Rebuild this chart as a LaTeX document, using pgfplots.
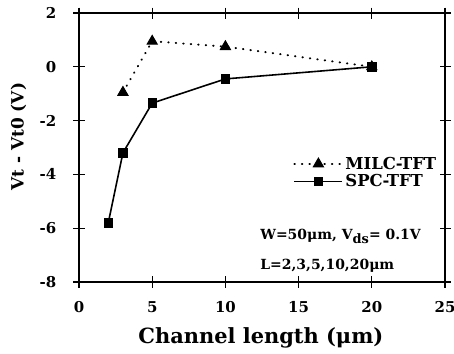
\documentclass[border=0pt]{standalone}
\usepackage{pgfplots}
\pgfplotsset{compat=1.18}
\usepackage{fontspec}
\setmainfont{DejaVu Serif}
\begin{document}
\begin{tikzpicture}[x=1bp,y=1bp]
\begin{axis}[
  name=ax,
  scale only axis,
  width=366bp, height=269bp,
  xmin=0, xmax=25, ymin=-8, ymax=2,
  xtick={0,5,10,15,20,25},
  ytick={-8,-6,-4,-2,0,2},
  xticklabel={\pgfmathprintnumber[assume math mode=true]{\tick}},
  yticklabel={\pgfmathprintnumber[assume math mode=true]{\tick}},
  tick align=center,
  major tick length=11bp,
  axis line style={line width=1.6pt},
  every tick/.style={line width=1.2pt, black},
  ticklabel style={font=\fontsize{15}{16}\selectfont\bfseries},
  xticklabel style={anchor=north, inner sep=0pt, yshift=-14bp},
  yticklabel style={anchor=east, inner sep=0pt, xshift=-17bp},
  every x tick label/.append style={at={(axis cs:\tick,-8)}},
  xlabel={Channel length (μm)},
  ylabel={Vt - Vt0 (V)},
  xlabel style={font=\fontsize{21}{22}\selectfont\bfseries, at={(axis description cs:0.497,-0.208)}, anchor=center},
  ylabel style={font=\fontsize{17}{18}\selectfont\bfseries, at={(axis description cs:-0.165,0.54)}, anchor=center},
  legend style={draw=none, fill=none, at={(0.99,0.48)}, anchor=north east,
    font=\fontsize{16.5}{17}\selectfont\bfseries, row sep=0bp,
    legend cell align=left},
  legend image code/.code={\draw[mark repeat=2,mark phase=2,#1] plot coordinates {(0bp,0bp) (24bp,0bp) (48bp,0bp)};},
]
\addplot[black, line width=2pt, line cap=round, dash pattern=on 0.5bp off 7bp, mark=triangle*, mark size=5.8bp,
  mark options={solid, line width=1pt}] coordinates {(3,-0.95) (5,0.95) (10,0.75) (20,0)};
\addlegendentry{MILC-TFT}
\addplot[black, line width=1.6pt, mark=square*, mark size=4.2bp, mark options={solid, line width=1pt}]
  coordinates {(2,-5.8) (3,-3.2) (5,-1.35) (10,-0.45) (20,0)};
\addlegendentry{SPC-TFT}
\node[anchor=west, font=\fontsize{14}{15}\selectfont\bfseries] at (axis cs:12.15,-6.3) {W=50μm, V\raisebox{-0.6ex}{\fontsize{13}{13}\selectfont ds}= 0.1V};
\node[anchor=west, font=\fontsize{14}{15}\selectfont\bfseries] at (axis cs:12.15,-7.4) {L=2,3,5,10,20μm};
\end{axis}
\pgfresetboundingbox
\path[use as bounding box] ([shift={(-79bp,-72bp)}]ax.south west) rectangle ([shift={(9bp,13bp)}]ax.north east);
\end{tikzpicture}
\end{document}
